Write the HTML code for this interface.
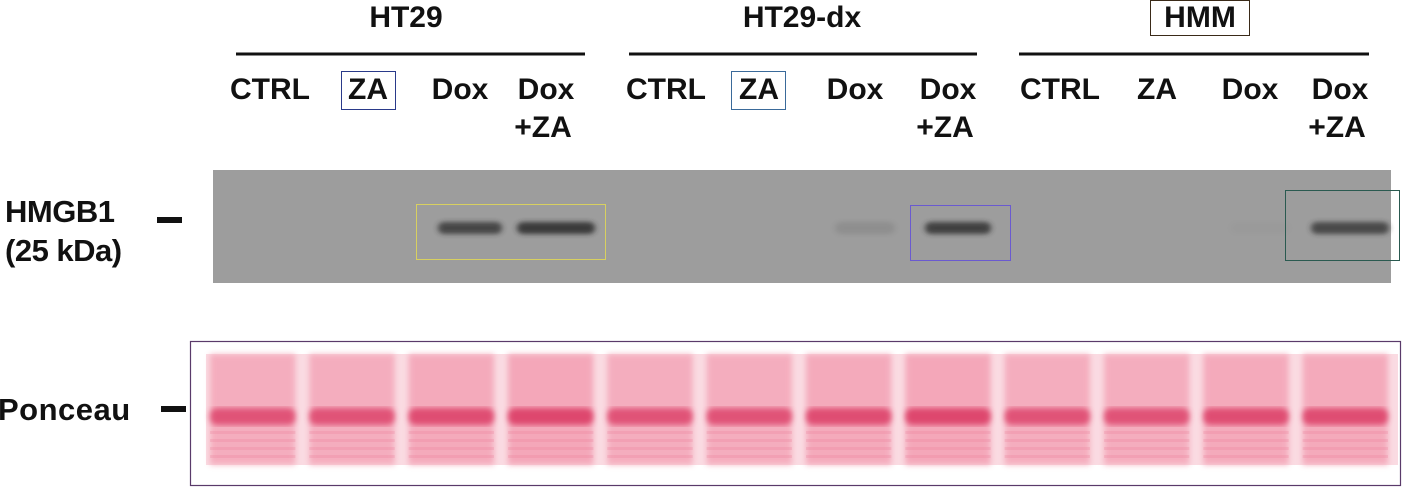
<!DOCTYPE html>
<html><head><meta charset="utf-8">
<style>
html,body{margin:0;padding:0;background:#fff;width:1407px;height:492px;overflow:hidden}
svg{display:block}
text{font-family:"Liberation Sans",Arial,sans-serif;font-weight:bold;fill:#111}
</style></head>
<body>
<svg id="fig" width="1407" height="492" viewBox="0 0 1407 492">
<defs>
<filter id="blur" x="-20%" y="-100%" width="140%" height="300%"><feGaussianBlur stdDeviation="3 2.5"/></filter>
<filter id="pblur" x="-10%" y="-10%" width="120%" height="120%"><feGaussianBlur stdDeviation="3"/></filter>
</defs>
<g>
<text x="406" y="27" text-anchor="middle" font-size="30">HT29</text>
<text x="802" y="27" text-anchor="middle" font-size="30">HT29-dx</text>
<text x="1200" y="27" text-anchor="middle" font-size="30">HMM</text>
<rect x="1150.5" y="0.5" width="99" height="35" fill="none" stroke="#3a2a18" stroke-width="1"/>
<line x1="236" y1="54" x2="585" y2="54" stroke="#111" stroke-width="3"/>
<line x1="629" y1="54" x2="977" y2="54" stroke="#111" stroke-width="3"/>
<line x1="1019" y1="54" x2="1369" y2="54" stroke="#111" stroke-width="3"/>
</g>
<g id="lanelabels"></g>
<rect x="341.5" y="71.5" width="54" height="38" fill="none" stroke="#2a3a8a" stroke-width="1"/>
<rect x="731.5" y="71.5" width="54" height="38" fill="none" stroke="#3a6a9a" stroke-width="1"/>

<text x="5" y="222" font-size="31" letter-spacing="-0.5">HMGB1</text>
<text x="5" y="261" font-size="31" letter-spacing="-0.5">(25 kDa)</text>
<rect x="157" y="217" width="25" height="6" fill="#111"/>
<text x="-2" y="420" font-size="31" letter-spacing="0.5">Ponceau</text>
<rect x="161" y="406" width="25" height="6" fill="#111"/>

<g>
<rect x="213" y="170" width="1178" height="113" fill="#9d9d9d"/>
<g id="bands"></g>
</g>
<rect x="416.5" y="204.5" width="189" height="55" fill="none" stroke="#d8d060" stroke-width="1"/>
<rect x="910.5" y="205.5" width="100" height="55" fill="none" stroke="#6a5ad0" stroke-width="1"/>
<rect x="1285.5" y="190.5" width="114" height="70" fill="none" stroke="#2a5a50" stroke-width="1"/>

<rect x="190.5" y="341.5" width="1210" height="144" fill="none" stroke="#5a3a6a" stroke-width="1.2"/>
<g>
<rect x="206" y="354" width="1192" height="111" fill="#fadbe2"/>
<g id="plances"></g>
</g>
</svg>
<script>
const laneLabels1 = ["CTRL","ZA","Dox","Dox","CTRL","ZA","Dox","Dox","CTRL","ZA","Dox","Dox"];
const laneLabels2 = ["","","","+ZA","","","","+ZA","","","","+ZA"];
const laneCenters = [270,368,460,546,666,759,855,948,1060,1157,1250,1340];
const bandIntensity = [0,0,0.75,0.85,0,0,0.12,0.8,0,0,0.02,0.72];
const bandWidth = [60,60,64,78,60,60,60,66,60,60,60,78];
const ponceauIntensity = [0.8,0.8,0.85,0.9,0.8,0.8,0.85,0.9,0.8,0.8,0.85,0.85];
const NS="http://www.w3.org/2000/svg";
const ll=document.getElementById('lanelabels');
laneCenters.forEach((cx,i)=>{
  const t=document.createElementNS(NS,'text');
  t.setAttribute('x',cx);t.setAttribute('y',99);t.setAttribute('text-anchor','middle');t.setAttribute('font-size','30');
  t.textContent=laneLabels1[i];
  
  
  ll.appendChild(t);
  if(laneLabels2[i]){
    const t2=document.createElementNS(NS,'text');
    t2.setAttribute('x',cx-3);t2.setAttribute('y',137);t2.setAttribute('text-anchor','middle');t2.setAttribute('font-size','30');
    t2.textContent=laneLabels2[i];
    
    
    ll.appendChild(t2);
  }
});
const bands=document.getElementById('bands');
const bandX=i=>laneCenters[i]+(i%4===3?10:(i%4===2?10:0));
bandIntensity.forEach((v,i)=>{
  if(v<=0)return;
  const r=document.createElementNS(NS,'rect');
  const w=bandWidth[i];
  r.setAttribute('x',bandX(i)-w/2);r.setAttribute('y',222);r.setAttribute('width',w);r.setAttribute('height',12);r.setAttribute('rx',6);
  r.setAttribute('fill','#2a2a2a');r.setAttribute('opacity',v);r.setAttribute('filter','url(#blur)');
  
  
  bands.appendChild(r);
});
const pl=document.getElementById('plances');
const lw=1192/12;
ponceauIntensity.forEach((v,i)=>{
  const x=206+i*lw+4;
  const g=document.createElementNS(NS,'g');
  
  
  const a=document.createElementNS(NS,'rect');
  a.setAttribute('x',x);a.setAttribute('y',354);a.setAttribute('width',lw-14);a.setAttribute('height',111);
  a.setAttribute('fill','#f294aa');a.setAttribute('opacity',v*0.8);a.setAttribute('filter','url(#pblur)');
  g.appendChild(a);
  const b=document.createElementNS(NS,'rect');
  b.setAttribute('x',x);b.setAttribute('y',408);b.setAttribute('width',lw-14);b.setAttribute('height',17);b.setAttribute('rx',7);
  b.setAttribute('fill','#dc3e66');b.setAttribute('opacity',v);b.setAttribute('filter','url(#pblur)');
  g.appendChild(b);
  for(let k=0;k<4;k++){
    const s=document.createElementNS(NS,'rect');
    s.setAttribute('x',x);s.setAttribute('y',431+k*8);s.setAttribute('width',lw-14);s.setAttribute('height',3);
    s.setAttribute('fill','#ea7c96');s.setAttribute('opacity',0.25);
    g.appendChild(s);
  }
  pl.appendChild(g);
});
</script>
</body></html>
